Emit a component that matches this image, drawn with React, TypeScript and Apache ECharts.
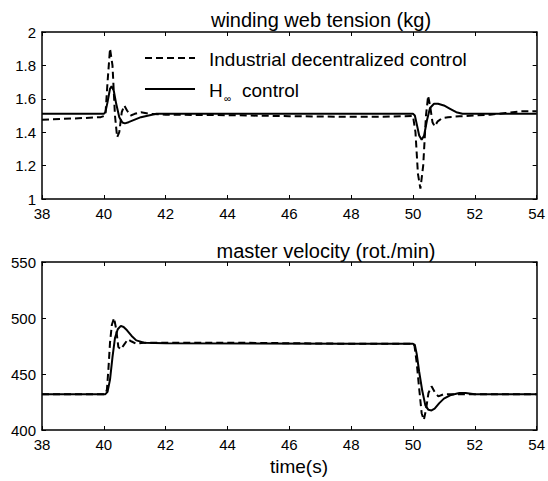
import React, { useEffect, useRef } from "react";
import * as echarts from "echarts";

const FONT = "'Liberation Sans', Arial, Helvetica, sans-serif";

// time axis ticks (s)
const timeMin = 38;
const timeMax = 54;
const timeStep = 2;

// winding web tension (kg) – industrial decentralized control (dashed)
const tensionDecT = [38, 39, 39.9, 40.05, 40.12, 40.2, 40.28, 40.36, 40.43, 40.5, 40.58, 40.66, 40.75, 40.87, 41.0, 41.2, 41.5, 42, 44, 46, 48, 49, 50.0, 50.08, 50.16, 50.24, 50.33, 50.42, 50.49, 50.56, 50.63, 50.7, 50.8, 50.95, 51.13, 51.5, 52, 52.5, 53, 53.5, 54];
const tensionDecV = [1.475, 1.482, 1.49, 1.5, 1.7, 1.9, 1.8, 1.5, 1.37, 1.4, 1.52, 1.56, 1.53, 1.5, 1.51, 1.52, 1.51, 1.505, 1.502, 1.496, 1.492, 1.493, 1.497, 1.4, 1.15, 1.062, 1.2, 1.5, 1.618, 1.55, 1.46, 1.435, 1.465, 1.485, 1.49, 1.495, 1.5, 1.505, 1.515, 1.525, 1.525];

// winding web tension (kg) – H∞ control (solid)
const tensionHinfT = [38, 40.0, 40.05, 40.12, 40.2, 40.25, 40.32, 40.4, 40.5, 40.6, 40.68, 40.8, 41.0, 41.2, 41.45, 41.7, 42, 50.0, 50.06, 50.12, 50.2, 50.28, 50.36, 50.45, 50.55, 50.68, 50.81, 51.0, 51.2, 51.4, 51.6, 52, 54];
const tensionHinfV = [1.51, 1.51, 1.52, 1.58, 1.66, 1.675, 1.65, 1.57, 1.49, 1.458, 1.453, 1.46, 1.475, 1.49, 1.5, 1.51, 1.51, 1.51, 1.5, 1.45, 1.38, 1.355, 1.38, 1.47, 1.545, 1.57, 1.57, 1.56, 1.54, 1.52, 1.51, 1.51, 1.51];

// master velocity (rot./min) – industrial decentralized control (dashed)
const velDecT = [38, 40.05, 40.1, 40.15, 40.2, 40.26, 40.33, 40.4, 40.47, 40.55, 40.65, 40.78, 40.9, 41.05, 41.3, 42, 44, 48, 50.0, 50.05, 50.12, 50.2, 50.28, 50.35, 50.42, 50.5, 50.6, 50.7, 50.82, 51.0, 51.3, 52, 54];
const velDecV = [432, 432, 436, 455, 478, 494, 500, 490, 474, 472, 476, 481, 479, 477, 478, 478, 478, 477, 477, 475, 460, 437, 415, 409, 418, 433, 439, 434, 430, 432, 432, 432, 432];

// master velocity (rot./min) – H∞ control (solid)
const velHinfT = [38, 40.05, 40.12, 40.2, 40.28, 40.36, 40.45, 40.55, 40.64, 40.75, 40.9, 41.05, 41.3, 42, 48, 50.0, 50.06, 50.12, 50.2, 50.3, 50.4, 50.5, 50.6, 50.7, 50.85, 51.0, 51.2, 51.5, 51.7, 52, 54];
const velHinfV = [432, 432, 434, 445, 465, 482, 490, 493, 492, 489, 484, 480, 478, 477.5, 477, 477, 476, 468, 452, 435, 422, 418, 417.5, 419, 424, 428, 431, 433, 433, 432, 432];

// y axis ranges
const tensionMin = 1;
const tensionMax = 2;
const tensionStep = 0.2;
const velMin = 400;
const velMax = 550;
const velStep = 50;

const titles = ["winding web tension (kg)", "master velocity (rot./min)"];
const xLabel = "time(s)";
const legendNames = ["Industrial decentralized control", "H", "∞", "control"];

const pairs = (t: number[], v: number[]) => t.map((x, i) => [x, v[i]]);

const axisLine = { show: true, onZero: false, lineStyle: { color: "#000", width: 1.5 } };
const tick = { show: true, inside: true, length: 4, lineStyle: { color: "#000", width: 1 } };
const label = { color: "#000", fontSize: 15, fontFamily: FONT };

export default function App() {
  const ref = useRef<HTMLDivElement>(null);
  useEffect(() => {
    if (!ref.current) return;
    const chart = echarts.init(ref.current, null, { renderer: "svg" });
    const xAx = (grid: number, pos: "bottom" | "top") => ({
      type: "value",
      gridIndex: grid,
      position: pos,
      min: timeMin,
      max: timeMax,
      interval: timeStep,
      axisLine,
      axisTick: tick,
      axisLabel: { ...label, show: pos === "bottom", margin: 7 },
      splitLine: { show: false },
    });
    const yAx = (grid: number, pos: "left" | "right", min: number, max: number, step: number) => ({
      type: "value",
      gridIndex: grid,
      position: pos,
      min,
      max,
      interval: step,
      axisLine,
      axisTick: tick,
      axisLabel: { ...label, show: pos === "left", margin: 6 },
      splitLine: { show: false },
    });
    const dashed = { color: "#000", width: 2, type: [7, 4] };
    const solid = { color: "#000", width: 2, type: "solid" };
    chart.setOption({
      animation: false,
      backgroundColor: "#fff",
      grid: [
        { left: 42, right: 7, top: 32, height: 167 },
        { left: 42, right: 7, top: 262, height: 168 },
      ],
      xAxis: [xAx(0, "bottom"), xAx(0, "top"), xAx(1, "bottom"), xAx(1, "top")],
      yAxis: [
        yAx(0, "left", tensionMin, tensionMax, tensionStep),
        yAx(0, "right", tensionMin, tensionMax, tensionStep),
        yAx(1, "left", velMin, velMax, velStep),
        yAx(1, "right", velMin, velMax, velStep),
      ],
      series: [
        { name: legendNames[0], type: "line", xAxisIndex: 0, yAxisIndex: 0, symbol: "none", lineStyle: dashed, data: pairs(tensionDecT, tensionDecV) },
        { name: "H∞ control", type: "line", xAxisIndex: 0, yAxisIndex: 0, symbol: "none", lineStyle: solid, data: pairs(tensionHinfT, tensionHinfV) },
        { name: legendNames[0], type: "line", xAxisIndex: 2, yAxisIndex: 2, symbol: "none", lineStyle: dashed, data: pairs(velDecT, velDecV) },
        { name: "H∞ control", type: "line", xAxisIndex: 2, yAxisIndex: 2, symbol: "none", lineStyle: solid, data: pairs(velHinfT, velHinfV) },
      ],
      graphic: [
        { type: "text", x: 321, y: 20, style: { text: titles[0], font: `20px ${FONT}`, fill: "#000", align: "center", verticalAlign: "middle" } },
        { type: "text", x: 326, y: 251, style: { text: titles[1], font: `20px ${FONT}`, fill: "#000", align: "center", verticalAlign: "middle" } },
        { type: "text", x: 299, y: 466, style: { text: xLabel, font: `19px ${FONT}`, fill: "#000", align: "center", verticalAlign: "middle" } },
        { type: "line", shape: { x1: 145, y1: 58, x2: 195, y2: 58 }, style: { stroke: "#000", lineWidth: 2, lineDash: [7, 4] } },
        { type: "text", x: 209, y: 59, style: { text: legendNames[0], font: `19px ${FONT}`, fill: "#000", align: "left", verticalAlign: "middle" } },
        { type: "line", shape: { x1: 145, y1: 89, x2: 195, y2: 89 }, style: { stroke: "#000", lineWidth: 2 } },
        { type: "text", x: 209, y: 90, style: { text: legendNames[1], font: `19px ${FONT}`, fill: "#000", align: "left", verticalAlign: "middle" } },
        { type: "text", x: 224, y: 98, style: { text: legendNames[2], font: `10px ${FONT}`, fill: "#000", align: "left", verticalAlign: "middle" } },
        { type: "text", x: 242, y: 90, style: { text: legendNames[3], font: `19px ${FONT}`, fill: "#000", align: "left", verticalAlign: "middle" } },
      ],
    });
    return () => chart.dispose();
  }, []);
  return <div ref={ref} style={{ position: "absolute", left: 0, top: 0, width: 548, height: 481, background: "#fff" }} />;
}
